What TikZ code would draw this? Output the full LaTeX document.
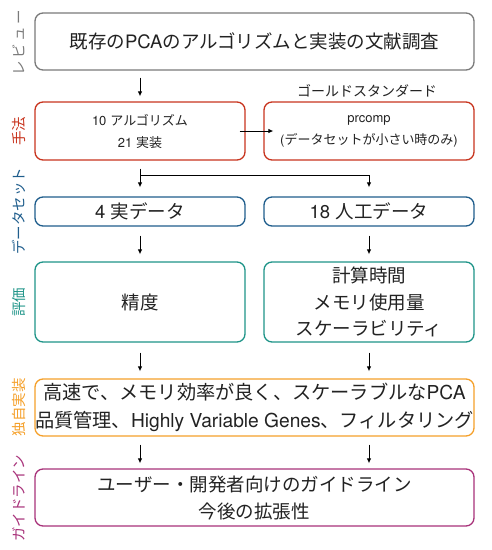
\documentclass[tikz,border=0pt]{standalone}
\usepackage{fontspec}
\setmainfont{Noto Sans CJK JP}
\newfontfamily\latf{TeX Gyre Heros}
\usetikzlibrary{arrows.meta,calc}
\definecolor{cgray}{HTML}{7A7A7A}
\definecolor{cred}{HTML}{C8341E}
\definecolor{cblue}{HTML}{1F5D8C}
\definecolor{cteal}{HTML}{1E9488}
\definecolor{corange}{HTML}{F5A02A}
\definecolor{cpurple}{HTML}{A8327A}
\definecolor{txt}{HTML}{222222}
\newcommand{\lt}[1]{{\latf #1}}
\newcommand{\gapsp}{\hspace{0.3em}}
\tikzset{
  box/.style={draw, rounded corners=8pt, line width=1.3pt, fill=white, inner sep=0pt, align=center, text=txt},
  big/.style={font=\fontsize{18.5}{27}\selectfont},
  small/.style={font=\fontsize{13}{22}\selectfont},
  sidelabel/.style={rotate=90, font=\fontsize{14.5}{15}\selectfont, inner sep=0pt},
  arr/.style={-{Latex[length=5pt,width=4.5pt]}, line width=0.9pt, black},
}
\begin{document}
\begin{tikzpicture}[x=1pt,y=-1pt]
\useasboundingbox (0,0) rectangle (491,550);
% boxes
\node[box, big, draw=cgray, minimum width=439pt, minimum height=57pt] (rev) at (254.5,41.5) {既存の\lt{PCA}のアルゴリズムと実装の文献調査};
\node[box, small, draw=cred, minimum width=210pt, minimum height=58pt] (m1) at (140,131) {\lt{10}\gapsp アルゴリズム\\\lt{21}\gapsp 実装};
\node[box, small, draw=cred, minimum width=210pt, minimum height=58pt] (m2) at (369,131) {\lt{prcomp}\\\lt{(}データセットが小さい時のみ\lt{)}};
\node[font=\fontsize{14}{14}\selectfont, text=txt, inner sep=0pt] (gold) at (367,91) {ゴールドスタンダード};
\node[box, big, draw=cblue, minimum width=210pt, minimum height=29pt] (d1) at (140,211.5) {\lt{4}\gapsp 実データ};
\node[box, big, draw=cblue, minimum width=210pt, minimum height=29pt] (d2) at (369,211.5) {\lt{18}\gapsp 人工データ};
\node[box, big, draw=cteal, minimum width=210pt, minimum height=80pt] (e1) at (140,302) {精度};
\node[box, font=\fontsize{18.5}{26.5}\selectfont, draw=cteal, minimum width=210pt, minimum height=80pt] (e2) at (369,302) {計算時間\\メモリ使用量\\スケーラビリティ};
\node[box, font=\fontsize{19.2}{28}\selectfont, draw=corange, minimum width=439pt, minimum height=57pt] (impl) at (254.5,407.5) {高速で、メモリ効率が良く、スケーラブルな\lt{PCA}\\品質管理、\lt{Highly Variable Genes}、フィルタリング};
\node[box, big, draw=cpurple, minimum width=439pt, minimum height=57pt] (guide) at (254.5,497.5) {ユーザー・開発者向けのガイドライン\\今後の拡張性};
% side labels
\node[sidelabel, text=cgray] (l1) at (19,43) {レ\,ビ\,ュ\,ー};
\node[sidelabel, text=cred] (l2) at (19,131) {手法};
\node[sidelabel, text=cblue] (l3) at (19,211) {データセット};
\node[sidelabel, text=cteal] (l4) at (19,302) {評価};
\node[sidelabel, text=corange] (l5) at (19,407) {独自実装};
\node[sidelabel, text=cpurple] (l6) at (19,498) {ガイドライン};
% connectors
\draw[arr, shorten <=7pt, shorten >=5pt] (m1.north |- rev.south) -- (m1.north);
\draw[arr, shorten <=-6pt, shorten >=-10pt] (m1.east) -- (m2.west);
\coordinate (fork) at ($(m1.south)+(0,15)$);
\draw[arr, shorten <=8pt, shorten >=9pt] (m1.south) -- (d1.north);
\draw[arr, shorten >=9pt] (fork) -| (d2.north);
\draw[arr, shorten <=9pt, shorten >=7pt] (d1.south) -- (e1.north);
\draw[arr, shorten <=9pt, shorten >=7pt] (d2.south) -- (e2.north);
\draw[arr, shorten <=10pt, shorten >=7pt] (e1.south) -- (e1.south |- impl.north);
\draw[arr, shorten <=10pt, shorten >=7pt] (e2.south) -- (e2.south |- impl.north);
\draw[arr, shorten <=8pt, shorten >=5pt] (e1.south |- impl.south) -- (e1.south |- guide.north);
\draw[arr, shorten <=8pt, shorten >=5pt] (e2.south |- impl.south) -- (e2.south |- guide.north);
\end{tikzpicture}
\end{document}
